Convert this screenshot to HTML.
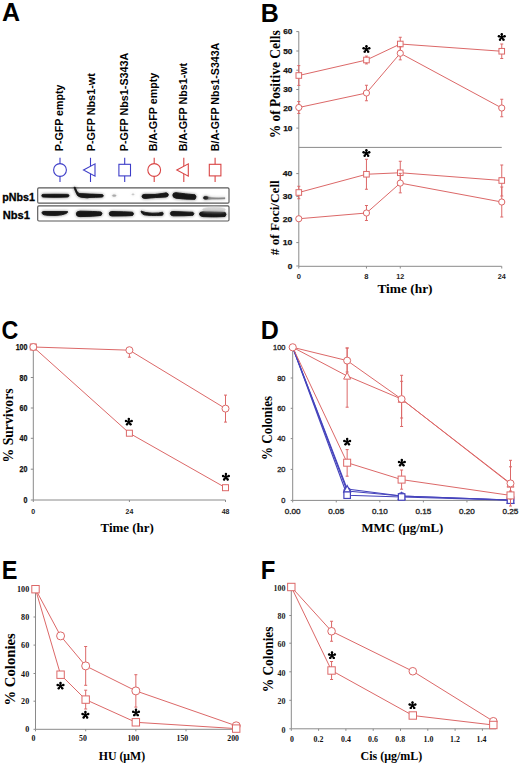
<!DOCTYPE html>
<html><head><meta charset="utf-8"><style>
html,body{margin:0;padding:0;background:#fff;width:520px;height:765px;overflow:hidden}
svg{display:block}
</style></head><body>
<svg width="520" height="765" viewBox="0 0 520 765">
<rect width="520" height="765" fill="#fff"/>
<text x="1.9000000000000001" y="21.2" font-family='"Liberation Sans", sans-serif' font-size="25" font-weight="bold" text-anchor="start" fill="#000">A</text>
<text x="260.7" y="21.6" font-family='"Liberation Sans", sans-serif' font-size="25" font-weight="bold" text-anchor="start" fill="#000">B</text>
<text x="1.5999999999999999" y="338.9" font-family='"Liberation Sans", sans-serif' font-size="25" font-weight="bold" text-anchor="start" fill="#000" textLength="16.8" lengthAdjust="spacingAndGlyphs">C</text>
<text x="260.7" y="338.6" font-family='"Liberation Sans", sans-serif' font-size="25" font-weight="bold" text-anchor="start" fill="#000">D</text>
<text x="1.7" y="578.5" font-family='"Liberation Sans", sans-serif' font-size="25" font-weight="bold" text-anchor="start" fill="#000" textLength="15.7" lengthAdjust="spacingAndGlyphs">E</text>
<text x="260.7" y="578.5" font-family='"Liberation Sans", sans-serif' font-size="25" font-weight="bold" text-anchor="start" fill="#000" textLength="14.6" lengthAdjust="spacingAndGlyphs">F</text>
<text x="63.3" y="151.2" font-family='"Liberation Sans", sans-serif' font-size="11" font-weight="bold" text-anchor="start" fill="#000" textLength="66.7" lengthAdjust="spacingAndGlyphs" transform="rotate(-90 63.3 151.2)">P-GFP empty</text>
<text x="94.6" y="151.2" font-family='"Liberation Sans", sans-serif' font-size="11" font-weight="bold" text-anchor="start" fill="#000" textLength="78" lengthAdjust="spacingAndGlyphs" transform="rotate(-90 94.6 151.2)">P-GFP Nbs1-wt</text>
<text x="127.6" y="151.2" font-family='"Liberation Sans", sans-serif' font-size="11" font-weight="bold" text-anchor="start" fill="#000" textLength="98.5" lengthAdjust="spacingAndGlyphs" transform="rotate(-90 127.6 151.2)">P-GFP Nbs1-S343A</text>
<text x="157.4" y="151.2" font-family='"Liberation Sans", sans-serif' font-size="11" font-weight="bold" text-anchor="start" fill="#000" textLength="78.5" lengthAdjust="spacingAndGlyphs" transform="rotate(-90 157.4 151.2)">B/A-GFP empty</text>
<text x="186.7" y="151.2" font-family='"Liberation Sans", sans-serif' font-size="11" font-weight="bold" text-anchor="start" fill="#000" textLength="88.3" lengthAdjust="spacingAndGlyphs" transform="rotate(-90 186.7 151.2)">B/A-GFP Nbs1-wt</text>
<text x="219.5" y="151.2" font-family='"Liberation Sans", sans-serif' font-size="11" font-weight="bold" text-anchor="start" fill="#000" textLength="108.5" lengthAdjust="spacingAndGlyphs" transform="rotate(-90 219.5 151.2)">B/A-GFP Nbs1-S343A</text>
<line x1="60" y1="157.8" x2="60" y2="182" stroke="#3d3dc8" stroke-width="1.1"/>
<circle cx="60" cy="170" r="6.4" fill="#fff" stroke="#3d3dc8" stroke-width="1.1"/>
<line x1="90.5" y1="157.8" x2="90.5" y2="182" stroke="#3d3dc8" stroke-width="1.1"/>
<polygon points="83.5,170 95.0,163.8 95.0,176.2" fill="#fff" stroke="#3d3dc8" stroke-width="1.1"/>
<line x1="124.7" y1="157.8" x2="124.7" y2="182" stroke="#3d3dc8" stroke-width="1.1"/>
<rect x="118.9" y="164.3" width="11.6" height="11.6" fill="#fff" stroke="#3d3dc8" stroke-width="1.1"/>
<line x1="154.2" y1="157.8" x2="154.2" y2="182" stroke="#d94545" stroke-width="1.1"/>
<circle cx="154.2" cy="170" r="6.4" fill="#fff" stroke="#d94545" stroke-width="1.1"/>
<line x1="183.8" y1="157.8" x2="183.8" y2="182" stroke="#d94545" stroke-width="1.1"/>
<polygon points="176.8,170 188.3,163.8 188.3,176.2" fill="#fff" stroke="#d94545" stroke-width="1.1"/>
<line x1="215.1" y1="157.8" x2="215.1" y2="182" stroke="#d94545" stroke-width="1.1"/>
<rect x="209.29999999999998" y="164.3" width="11.6" height="11.6" fill="#fff" stroke="#d94545" stroke-width="1.1"/>
<rect x="37.7" y="187.9" width="191.3" height="15.2" rx="1.2" fill="#fff" stroke="#595959" stroke-width="1.15"/>
<rect x="37.7" y="205.8" width="191.3" height="15.2" rx="1.2" fill="#fff" stroke="#595959" stroke-width="1.15"/>
<defs><filter id="bl" x="-20%" y="-100%" width="140%" height="300%"><feGaussianBlur stdDeviation="0.75"/></filter><filter id="bl2" x="-20%" y="-150%" width="140%" height="400%"><feGaussianBlur stdDeviation="1.6"/></filter></defs>
<g id="bands" filter="url(#bl)" fill="#151515">
<path d="M41.8,195.6 Q41.8,194.4 43,194.4 Q55,194.2 67.5,194.4 Q69,194.5 69,195.6 Q69,196.9 67.5,197 Q55,197.5 43,197 Q41.8,196.9 41.8,195.6 Z" stroke="#151515" stroke-width="0.9"/>
<path d="M74,187.3 L75.2,187.3 Q76.5,192 79,193.6 Q90,194.2 102.5,194.6 Q104.3,195.8 102.5,197 Q95,197.3 90,197.4 Q87,198.2 85,197.6 Q79,197.4 77.5,195.5 Q75,191 74,187.3 Z" stroke="#151515" stroke-width="0.9"/>
<ellipse cx="114.2" cy="195.6" rx="1.9" ry="0.9" fill="#aaa" stroke="#aaa" stroke-width="0.5"/>
<ellipse cx="133" cy="194.4" rx="1.2" ry="0.7" fill="#ccc" stroke="#ccc" stroke-width="0.5"/>
<path d="M142,196.3 Q142,194.2 145,194.4 Q156,195 163,193.4 Q167,192 168.2,194 Q168.8,196.5 166,197 Q156,197.3 145,198.4 Q142,198.5 142,196.3 Z" stroke="#151515" stroke-width="0.9"/>
<path d="M172.8,195 Q173,192.5 176,192.7 Q186,194 195,194.8 Q197,196.5 195,199.3 Q186,199.5 176,198.2 Q172.8,197.8 172.8,195 Z" stroke="#151515" stroke-width="0.9"/>
<path d="M203.3,197.2 Q204,195.8 206.5,196.2 Q209,197 212,197.5 Q219,197.8 225,197.6 L225,199 Q218,199.2 212,199.2 Q207,199.6 204.8,199.4 Q203,198.8 203.3,197.2 Z" fill="#8a8a8a" stroke="#8a8a8a" stroke-width="0.3"/>
<ellipse cx="205.8" cy="197.9" rx="2.4" ry="1.3" stroke="#151515" stroke-width="0.5"/>
<path d="M42,212.6 Q42,211.5 44,211.5 L67.5,211.6 Q68.5,212 66,213.5 Q62,215.3 55,215.4 Q47,215.5 44,214.8 Q42,214.2 42,212.6 Z" stroke="#151515" stroke-width="0.9"/>
<path d="M76.3,213.9 Q76.3,211.2 80,211.2 Q95,211.4 101,212 Q103,213.5 101,215.4 Q95,216.2 80,216.6 Q76.3,216.6 76.3,213.9 Z" stroke="#151515" stroke-width="0.9"/>
<path d="M109.3,213.7 Q109.3,211.5 112,211.5 Q125,211.8 132.5,212.2 Q134.5,213.7 132.5,215.5 Q125,216 112,216 Q109.3,216 109.3,213.7 Z" stroke="#151515" stroke-width="0.9"/>
<path d="M141,211 Q145,213 152,213.2 Q160,213.3 162.5,212.2 Q164,213.8 162.5,215.2 Q150,215.8 144,214.8 Q141,213.5 141,211 Z" stroke="#151515" stroke-width="0.9"/>
<path d="M170.4,213.5 Q170.4,211.4 173,211.5 Q185,212 193,212.3 Q194.8,213.7 193,215.3 Q185,215.9 173,215.8 Q170.4,215.6 170.4,213.5 Z" stroke="#151515" stroke-width="0.9"/>
<ellipse cx="214" cy="209.6" rx="11.5" ry="2.4" fill="#d5d5d5" stroke="#d5d5d5" stroke-width="0.5"/>
<path d="M199.5,214 Q199.5,211.8 203,211.8 Q215,212 225,212.3 Q227,214.3 225,216.5 Q215,217.2 203,216.6 Q199.5,216.2 199.5,214 Z" stroke="#151515" stroke-width="0.9"/>
</g>
<g filter="url(#bl2)" opacity="0.6"><use href="#bands"/></g>
<text x="2.3" y="201" font-family='"Liberation Sans", sans-serif' font-size="11" font-weight="bold" text-anchor="start" fill="#000" textLength="32.7" lengthAdjust="spacingAndGlyphs" stroke="#000" stroke-width="0.3">pNbs1</text>
<text x="2.8" y="218.8" font-family='"Liberation Sans", sans-serif' font-size="11" font-weight="bold" text-anchor="start" fill="#000" textLength="27.2" lengthAdjust="spacingAndGlyphs" stroke="#000" stroke-width="0.3">Nbs1</text>
<line x1="298.8" y1="31.6" x2="298.8" y2="266.3" stroke="#8a8a8a" stroke-width="1"/>
<line x1="298.8" y1="147.4" x2="501.75" y2="147.4" stroke="#8a8a8a" stroke-width="1"/>
<line x1="298.8" y1="266.3" x2="501.75" y2="266.3" stroke="#8a8a8a" stroke-width="1"/>
<line x1="296.3" y1="31.6" x2="298.8" y2="31.6" stroke="#8a8a8a" stroke-width="1"/>
<text x="292.4" y="34.4" font-family='"Liberation Sans", sans-serif' font-size="7.8" font-weight="bold" text-anchor="end" fill="#111" textLength="9.2" lengthAdjust="spacingAndGlyphs" stroke="#111" stroke-width="0.25">60</text>
<line x1="296.3" y1="51" x2="298.8" y2="51" stroke="#8a8a8a" stroke-width="1"/>
<text x="292.4" y="53.8" font-family='"Liberation Sans", sans-serif' font-size="7.8" font-weight="bold" text-anchor="end" fill="#111" textLength="9.2" lengthAdjust="spacingAndGlyphs" stroke="#111" stroke-width="0.25">50</text>
<line x1="296.3" y1="70.2" x2="298.8" y2="70.2" stroke="#8a8a8a" stroke-width="1"/>
<text x="292.4" y="73.0" font-family='"Liberation Sans", sans-serif' font-size="7.8" font-weight="bold" text-anchor="end" fill="#111" textLength="9.2" lengthAdjust="spacingAndGlyphs" stroke="#111" stroke-width="0.25">40</text>
<line x1="296.3" y1="89.5" x2="298.8" y2="89.5" stroke="#8a8a8a" stroke-width="1"/>
<text x="292.4" y="92.3" font-family='"Liberation Sans", sans-serif' font-size="7.8" font-weight="bold" text-anchor="end" fill="#111" textLength="9.2" lengthAdjust="spacingAndGlyphs" stroke="#111" stroke-width="0.25">30</text>
<line x1="296.3" y1="108.6" x2="298.8" y2="108.6" stroke="#8a8a8a" stroke-width="1"/>
<text x="292.4" y="111.39999999999999" font-family='"Liberation Sans", sans-serif' font-size="7.8" font-weight="bold" text-anchor="end" fill="#111" textLength="9.2" lengthAdjust="spacingAndGlyphs" stroke="#111" stroke-width="0.25">20</text>
<line x1="296.3" y1="128.1" x2="298.8" y2="128.1" stroke="#8a8a8a" stroke-width="1"/>
<text x="292.4" y="130.9" font-family='"Liberation Sans", sans-serif' font-size="7.8" font-weight="bold" text-anchor="end" fill="#111" textLength="9.2" lengthAdjust="spacingAndGlyphs" stroke="#111" stroke-width="0.25">10</text>
<line x1="296.3" y1="173.6" x2="298.8" y2="173.6" stroke="#8a8a8a" stroke-width="1"/>
<text x="292.4" y="176.4" font-family='"Liberation Sans", sans-serif' font-size="7.8" font-weight="bold" text-anchor="end" fill="#111" textLength="9.6" lengthAdjust="spacingAndGlyphs" stroke="#111" stroke-width="0.25">40</text>
<line x1="296.3" y1="196.6" x2="298.8" y2="196.6" stroke="#8a8a8a" stroke-width="1"/>
<text x="292.4" y="199.4" font-family='"Liberation Sans", sans-serif' font-size="7.8" font-weight="bold" text-anchor="end" fill="#111" textLength="9.6" lengthAdjust="spacingAndGlyphs" stroke="#111" stroke-width="0.25">30</text>
<line x1="296.3" y1="219.4" x2="298.8" y2="219.4" stroke="#8a8a8a" stroke-width="1"/>
<text x="292.4" y="222.20000000000002" font-family='"Liberation Sans", sans-serif' font-size="7.8" font-weight="bold" text-anchor="end" fill="#111" textLength="9.6" lengthAdjust="spacingAndGlyphs" stroke="#111" stroke-width="0.25">20</text>
<line x1="296.3" y1="242.6" x2="298.8" y2="242.6" stroke="#8a8a8a" stroke-width="1"/>
<text x="292.4" y="245.4" font-family='"Liberation Sans", sans-serif' font-size="7.8" font-weight="bold" text-anchor="end" fill="#111" textLength="9.6" lengthAdjust="spacingAndGlyphs" stroke="#111" stroke-width="0.25">10</text>
<line x1="296.3" y1="266" x2="298.8" y2="266" stroke="#8a8a8a" stroke-width="1"/>
<text x="292.4" y="268.8" font-family='"Liberation Sans", sans-serif' font-size="7.8" font-weight="bold" text-anchor="end" fill="#111" textLength="4.6" lengthAdjust="spacingAndGlyphs" stroke="#111" stroke-width="0.25">0</text>
<line x1="298.8" y1="266.3" x2="298.8" y2="268.5" stroke="#8a8a8a" stroke-width="1"/>
<text x="298.8" y="278.8" font-family='"Liberation Sans", sans-serif' font-size="7.2" font-weight="bold" text-anchor="middle" fill="#222" textLength="4.2" lengthAdjust="spacingAndGlyphs">0</text>
<line x1="366.45" y1="266.3" x2="366.45" y2="268.5" stroke="#8a8a8a" stroke-width="1"/>
<text x="366.45" y="278.8" font-family='"Liberation Sans", sans-serif' font-size="7.2" font-weight="bold" text-anchor="middle" fill="#222" textLength="4.2" lengthAdjust="spacingAndGlyphs">8</text>
<line x1="400.275" y1="266.3" x2="400.275" y2="268.5" stroke="#8a8a8a" stroke-width="1"/>
<text x="400.275" y="278.8" font-family='"Liberation Sans", sans-serif' font-size="7.2" font-weight="bold" text-anchor="middle" fill="#222" textLength="8.0" lengthAdjust="spacingAndGlyphs">12</text>
<line x1="501.75" y1="266.3" x2="501.75" y2="268.5" stroke="#8a8a8a" stroke-width="1"/>
<text x="501.75" y="278.8" font-family='"Liberation Sans", sans-serif' font-size="7.2" font-weight="bold" text-anchor="middle" fill="#222" textLength="8.0" lengthAdjust="spacingAndGlyphs">24</text>
<text x="377.4" y="292.9" font-family='"Liberation Serif", serif' font-size="13.5" font-weight="bold" text-anchor="start" fill="#000" textLength="55.2" lengthAdjust="spacingAndGlyphs">Time (hr)</text>
<text x="280.0" y="138.3" font-family='"Liberation Serif", serif' font-size="14.8" font-weight="bold" text-anchor="start" fill="#000" textLength="108" lengthAdjust="spacingAndGlyphs" transform="rotate(-90 280.0 138.3)">% of Positive Cells</text>
<text x="279" y="255.2" font-family='"Liberation Serif", serif' font-size="13.2" font-weight="bold" text-anchor="start" fill="#000" textLength="75" lengthAdjust="spacingAndGlyphs" transform="rotate(-90 279 255.2)"># of Foci/Cell</text>
<line x1="298.8" y1="65.6" x2="298.8" y2="85.4" stroke="#dc6868" stroke-width="1"/>
<line x1="297.3" y1="65.6" x2="300.3" y2="65.6" stroke="#dc6868" stroke-width="1"/>
<line x1="297.3" y1="85.4" x2="300.3" y2="85.4" stroke="#dc6868" stroke-width="1"/>
<line x1="366.45" y1="56.1" x2="366.45" y2="63.9" stroke="#dc6868" stroke-width="1"/>
<line x1="364.95" y1="56.1" x2="367.95" y2="56.1" stroke="#dc6868" stroke-width="1"/>
<line x1="364.95" y1="63.9" x2="367.95" y2="63.9" stroke="#dc6868" stroke-width="1"/>
<line x1="400.275" y1="37.25" x2="400.275" y2="50.75" stroke="#dc6868" stroke-width="1"/>
<line x1="398.775" y1="37.25" x2="401.775" y2="37.25" stroke="#dc6868" stroke-width="1"/>
<line x1="398.775" y1="50.75" x2="401.775" y2="50.75" stroke="#dc6868" stroke-width="1"/>
<line x1="501.75" y1="44.0" x2="501.75" y2="58.5" stroke="#dc6868" stroke-width="1"/>
<line x1="500.25" y1="44.0" x2="503.25" y2="44.0" stroke="#dc6868" stroke-width="1"/>
<line x1="500.25" y1="58.5" x2="503.25" y2="58.5" stroke="#dc6868" stroke-width="1"/>
<polyline points="298.8,75.5 366.45,60 400.275,44 501.75,51.25" fill="none" stroke="#dc6868" stroke-width="1"/>
<rect x="296.0" y="72.7" width="5.6" height="5.6" fill="#fff" stroke="#dc6868" stroke-width="1"/>
<rect x="363.65" y="57.2" width="5.6" height="5.6" fill="#fff" stroke="#dc6868" stroke-width="1"/>
<rect x="397.47499999999997" y="41.2" width="5.6" height="5.6" fill="#fff" stroke="#dc6868" stroke-width="1"/>
<rect x="498.95" y="48.45" width="5.6" height="5.6" fill="#fff" stroke="#dc6868" stroke-width="1"/>
<line x1="298.8" y1="101.5" x2="298.8" y2="113.5" stroke="#dc6868" stroke-width="1"/>
<line x1="297.3" y1="101.5" x2="300.3" y2="101.5" stroke="#dc6868" stroke-width="1"/>
<line x1="297.3" y1="113.5" x2="300.3" y2="113.5" stroke="#dc6868" stroke-width="1"/>
<line x1="366.45" y1="85.25" x2="366.45" y2="100.75" stroke="#dc6868" stroke-width="1"/>
<line x1="364.95" y1="85.25" x2="367.95" y2="85.25" stroke="#dc6868" stroke-width="1"/>
<line x1="364.95" y1="100.75" x2="367.95" y2="100.75" stroke="#dc6868" stroke-width="1"/>
<line x1="400.275" y1="46.65" x2="400.275" y2="59.85" stroke="#dc6868" stroke-width="1"/>
<line x1="398.775" y1="46.65" x2="401.775" y2="46.65" stroke="#dc6868" stroke-width="1"/>
<line x1="398.775" y1="59.85" x2="401.775" y2="59.85" stroke="#dc6868" stroke-width="1"/>
<line x1="501.75" y1="99.25" x2="501.75" y2="116.75" stroke="#dc6868" stroke-width="1"/>
<line x1="500.25" y1="99.25" x2="503.25" y2="99.25" stroke="#dc6868" stroke-width="1"/>
<line x1="500.25" y1="116.75" x2="503.25" y2="116.75" stroke="#dc6868" stroke-width="1"/>
<polyline points="298.8,107.5 366.45,93 400.275,53.25 501.75,108" fill="none" stroke="#dc6868" stroke-width="1"/>
<circle cx="298.8" cy="107.5" r="3.1" fill="#fff" stroke="#dc6868" stroke-width="1"/>
<circle cx="366.45" cy="93" r="3.1" fill="#fff" stroke="#dc6868" stroke-width="1"/>
<circle cx="400.275" cy="53.25" r="3.1" fill="#fff" stroke="#dc6868" stroke-width="1"/>
<circle cx="501.75" cy="108" r="3.1" fill="#fff" stroke="#dc6868" stroke-width="1"/>
<g fill="#000"><path d="M366.45,49.20L366.45,46.20M366.45,49.20L369.30,48.27M366.45,49.20L368.21,51.63M366.45,49.20L364.69,51.63M366.45,49.20L363.60,48.27" stroke="#000" stroke-width="1.7" stroke-linecap="round" fill="none"/><circle cx="366.45" cy="46.20" r="1.2"/><circle cx="369.30" cy="48.27" r="1.2"/><circle cx="368.21" cy="51.63" r="1.2"/><circle cx="364.69" cy="51.63" r="1.2"/><circle cx="363.60" cy="48.27" r="1.2"/></g>
<g fill="#000"><path d="M501.75,37.20L501.75,34.20M501.75,37.20L504.60,36.27M501.75,37.20L503.51,39.63M501.75,37.20L499.99,39.63M501.75,37.20L498.90,36.27" stroke="#000" stroke-width="1.7" stroke-linecap="round" fill="none"/><circle cx="501.75" cy="34.20" r="1.2"/><circle cx="504.60" cy="36.27" r="1.2"/><circle cx="503.51" cy="39.63" r="1.2"/><circle cx="499.99" cy="39.63" r="1.2"/><circle cx="498.90" cy="36.27" r="1.2"/></g>
<line x1="298.8" y1="186.25" x2="298.8" y2="198.75" stroke="#dc6868" stroke-width="1"/>
<line x1="297.3" y1="186.25" x2="300.3" y2="186.25" stroke="#dc6868" stroke-width="1"/>
<line x1="297.3" y1="198.75" x2="300.3" y2="198.75" stroke="#dc6868" stroke-width="1"/>
<line x1="366.45" y1="159.25" x2="366.45" y2="189.25" stroke="#dc6868" stroke-width="1"/>
<line x1="364.95" y1="159.25" x2="367.95" y2="159.25" stroke="#dc6868" stroke-width="1"/>
<line x1="364.95" y1="189.25" x2="367.95" y2="189.25" stroke="#dc6868" stroke-width="1"/>
<line x1="400.275" y1="161.25" x2="400.275" y2="184.25" stroke="#dc6868" stroke-width="1"/>
<line x1="398.775" y1="161.25" x2="401.775" y2="161.25" stroke="#dc6868" stroke-width="1"/>
<line x1="398.775" y1="184.25" x2="401.775" y2="184.25" stroke="#dc6868" stroke-width="1"/>
<line x1="501.75" y1="165.0" x2="501.75" y2="196.0" stroke="#dc6868" stroke-width="1"/>
<line x1="500.25" y1="165.0" x2="503.25" y2="165.0" stroke="#dc6868" stroke-width="1"/>
<line x1="500.25" y1="196.0" x2="503.25" y2="196.0" stroke="#dc6868" stroke-width="1"/>
<polyline points="298.8,192.5 366.45,174.25 400.275,172.75 501.75,180.5" fill="none" stroke="#dc6868" stroke-width="1"/>
<rect x="296.0" y="189.7" width="5.6" height="5.6" fill="#fff" stroke="#dc6868" stroke-width="1"/>
<rect x="363.65" y="171.45" width="5.6" height="5.6" fill="#fff" stroke="#dc6868" stroke-width="1"/>
<rect x="397.47499999999997" y="169.95" width="5.6" height="5.6" fill="#fff" stroke="#dc6868" stroke-width="1"/>
<rect x="498.95" y="177.7" width="5.6" height="5.6" fill="#fff" stroke="#dc6868" stroke-width="1"/>
<line x1="298.8" y1="216.75" x2="298.8" y2="220.75" stroke="#dc6868" stroke-width="1"/>
<line x1="297.3" y1="216.75" x2="300.3" y2="216.75" stroke="#dc6868" stroke-width="1"/>
<line x1="297.3" y1="220.75" x2="300.3" y2="220.75" stroke="#dc6868" stroke-width="1"/>
<line x1="366.45" y1="205.5" x2="366.45" y2="220.5" stroke="#dc6868" stroke-width="1"/>
<line x1="364.95" y1="205.5" x2="367.95" y2="205.5" stroke="#dc6868" stroke-width="1"/>
<line x1="364.95" y1="220.5" x2="367.95" y2="220.5" stroke="#dc6868" stroke-width="1"/>
<line x1="400.275" y1="173.35" x2="400.275" y2="192.85" stroke="#dc6868" stroke-width="1"/>
<line x1="398.775" y1="173.35" x2="401.775" y2="173.35" stroke="#dc6868" stroke-width="1"/>
<line x1="398.775" y1="192.85" x2="401.775" y2="192.85" stroke="#dc6868" stroke-width="1"/>
<line x1="501.75" y1="187" x2="501.75" y2="217" stroke="#dc6868" stroke-width="1"/>
<line x1="500.25" y1="187" x2="503.25" y2="187" stroke="#dc6868" stroke-width="1"/>
<line x1="500.25" y1="217" x2="503.25" y2="217" stroke="#dc6868" stroke-width="1"/>
<polyline points="298.8,218.75 366.45,213 400.275,183.1 501.75,202" fill="none" stroke="#dc6868" stroke-width="1"/>
<circle cx="298.8" cy="218.75" r="3.1" fill="#fff" stroke="#dc6868" stroke-width="1"/>
<circle cx="366.45" cy="213" r="3.1" fill="#fff" stroke="#dc6868" stroke-width="1"/>
<circle cx="400.275" cy="183.1" r="3.1" fill="#fff" stroke="#dc6868" stroke-width="1"/>
<circle cx="501.75" cy="202" r="3.1" fill="#fff" stroke="#dc6868" stroke-width="1"/>
<g fill="#000"><path d="M366.40,153.25L366.40,150.25M366.40,153.25L369.25,152.32M366.40,153.25L368.16,155.68M366.40,153.25L364.64,155.68M366.40,153.25L363.55,152.32" stroke="#000" stroke-width="1.7" stroke-linecap="round" fill="none"/><circle cx="366.40" cy="150.25" r="1.2"/><circle cx="369.25" cy="152.32" r="1.2"/><circle cx="368.16" cy="155.68" r="1.2"/><circle cx="364.64" cy="155.68" r="1.2"/><circle cx="363.55" cy="152.32" r="1.2"/></g>
<line x1="33.3" y1="347" x2="33.3" y2="500" stroke="#8a8a8a" stroke-width="1"/>
<line x1="33.3" y1="500" x2="225.5" y2="500" stroke="#8a8a8a" stroke-width="1"/>
<line x1="30.799999999999997" y1="346.8" x2="33.3" y2="346.8" stroke="#8a8a8a" stroke-width="1"/>
<text x="27.5" y="349.8" font-family='"Liberation Sans", sans-serif' font-size="8.2" font-weight="bold" text-anchor="end" fill="#111" textLength="11.850000000000001" lengthAdjust="spacingAndGlyphs" stroke="#111" stroke-width="0.25">100</text>
<line x1="30.799999999999997" y1="377.5" x2="33.3" y2="377.5" stroke="#8a8a8a" stroke-width="1"/>
<text x="27.5" y="380.5" font-family='"Liberation Sans", sans-serif' font-size="8.2" font-weight="bold" text-anchor="end" fill="#111" textLength="7.9" lengthAdjust="spacingAndGlyphs" stroke="#111" stroke-width="0.25">80</text>
<line x1="30.799999999999997" y1="408" x2="33.3" y2="408" stroke="#8a8a8a" stroke-width="1"/>
<text x="27.5" y="411" font-family='"Liberation Sans", sans-serif' font-size="8.2" font-weight="bold" text-anchor="end" fill="#111" textLength="7.9" lengthAdjust="spacingAndGlyphs" stroke="#111" stroke-width="0.25">60</text>
<line x1="30.799999999999997" y1="438.3" x2="33.3" y2="438.3" stroke="#8a8a8a" stroke-width="1"/>
<text x="27.5" y="441.3" font-family='"Liberation Sans", sans-serif' font-size="8.2" font-weight="bold" text-anchor="end" fill="#111" textLength="7.9" lengthAdjust="spacingAndGlyphs" stroke="#111" stroke-width="0.25">40</text>
<line x1="30.799999999999997" y1="469.2" x2="33.3" y2="469.2" stroke="#8a8a8a" stroke-width="1"/>
<text x="27.5" y="472.2" font-family='"Liberation Sans", sans-serif' font-size="8.2" font-weight="bold" text-anchor="end" fill="#111" textLength="7.9" lengthAdjust="spacingAndGlyphs" stroke="#111" stroke-width="0.25">20</text>
<line x1="30.799999999999997" y1="500" x2="33.3" y2="500" stroke="#8a8a8a" stroke-width="1"/>
<text x="27.5" y="503" font-family='"Liberation Sans", sans-serif' font-size="8.2" font-weight="bold" text-anchor="end" fill="#111" textLength="3.95" lengthAdjust="spacingAndGlyphs" stroke="#111" stroke-width="0.25">0</text>
<line x1="33.3" y1="500" x2="33.3" y2="502" stroke="#8a8a8a" stroke-width="1"/>
<text x="33.3" y="513.8" font-family='"Liberation Sans", sans-serif' font-size="8.0" font-weight="bold" text-anchor="middle" fill="#222" textLength="3.9" lengthAdjust="spacingAndGlyphs">0</text>
<line x1="129.39999999999998" y1="500" x2="129.39999999999998" y2="502" stroke="#8a8a8a" stroke-width="1"/>
<text x="129.39999999999998" y="513.8" font-family='"Liberation Sans", sans-serif' font-size="8.0" font-weight="bold" text-anchor="middle" fill="#222" textLength="7.7" lengthAdjust="spacingAndGlyphs">24</text>
<line x1="225.49999999999994" y1="500" x2="225.49999999999994" y2="502" stroke="#8a8a8a" stroke-width="1"/>
<text x="225.49999999999994" y="513.8" font-family='"Liberation Sans", sans-serif' font-size="8.0" font-weight="bold" text-anchor="middle" fill="#222" textLength="7.7" lengthAdjust="spacingAndGlyphs">48</text>
<text x="100.5" y="531.5" font-family='"Liberation Serif", serif' font-size="13" font-weight="bold" text-anchor="start" fill="#000" textLength="53.3" lengthAdjust="spacingAndGlyphs">Time (hr)</text>
<text x="12.9" y="462.4" font-family='"Liberation Serif", serif' font-size="13.7" font-weight="bold" text-anchor="start" fill="#000" textLength="74" lengthAdjust="spacingAndGlyphs" transform="rotate(-90 12.9 462.4)">% Survivors</text>
<line x1="129.39999999999998" y1="350.2" x2="129.39999999999998" y2="357.2" stroke="#dc6868" stroke-width="1"/>
<line x1="127.89999999999998" y1="350.2" x2="130.89999999999998" y2="350.2" stroke="#dc6868" stroke-width="1"/>
<line x1="127.89999999999998" y1="357.2" x2="130.89999999999998" y2="357.2" stroke="#dc6868" stroke-width="1"/>
<line x1="225.49999999999994" y1="395.1" x2="225.49999999999994" y2="422.1" stroke="#dc6868" stroke-width="1"/>
<line x1="223.99999999999994" y1="395.1" x2="226.99999999999994" y2="395.1" stroke="#dc6868" stroke-width="1"/>
<line x1="223.99999999999994" y1="422.1" x2="226.99999999999994" y2="422.1" stroke="#dc6868" stroke-width="1"/>
<polyline points="33.3,347 129.39999999999998,350.2 225.49999999999994,408.6" fill="none" stroke="#dc6868" stroke-width="1"/>
<polyline points="33.3,347 129.39999999999998,433.2 225.49999999999994,487.7" fill="none" stroke="#dc6868" stroke-width="1"/>
<rect x="30.299999999999997" y="344.0" width="6" height="6" fill="#fff" stroke="#dc6868" stroke-width="1"/>
<rect x="126.39999999999998" y="430.2" width="6" height="6" fill="#fff" stroke="#dc6868" stroke-width="1"/>
<rect x="222.49999999999994" y="484.7" width="6" height="6" fill="#fff" stroke="#dc6868" stroke-width="1"/>
<circle cx="33.3" cy="347" r="3.5" fill="#fff" stroke="#dc6868" stroke-width="1"/>
<circle cx="129.39999999999998" cy="350.2" r="3.5" fill="#fff" stroke="#dc6868" stroke-width="1"/>
<circle cx="225.49999999999994" cy="408.6" r="3.5" fill="#fff" stroke="#dc6868" stroke-width="1"/>
<g fill="#000"><path d="M128.80,421.90L128.80,418.90M128.80,421.90L131.65,420.97M128.80,421.90L130.56,424.33M128.80,421.90L127.04,424.33M128.80,421.90L125.95,420.97" stroke="#000" stroke-width="1.7" stroke-linecap="round" fill="none"/><circle cx="128.80" cy="418.90" r="1.2"/><circle cx="131.65" cy="420.97" r="1.2"/><circle cx="130.56" cy="424.33" r="1.2"/><circle cx="127.04" cy="424.33" r="1.2"/><circle cx="125.95" cy="420.97" r="1.2"/></g>
<g fill="#000"><path d="M225.90,477.00L225.90,474.00M225.90,477.00L228.75,476.07M225.90,477.00L227.66,479.43M225.90,477.00L224.14,479.43M225.90,477.00L223.05,476.07" stroke="#000" stroke-width="1.7" stroke-linecap="round" fill="none"/><circle cx="225.90" cy="474.00" r="1.2"/><circle cx="228.75" cy="476.07" r="1.2"/><circle cx="227.66" cy="479.43" r="1.2"/><circle cx="224.14" cy="479.43" r="1.2"/><circle cx="223.05" cy="476.07" r="1.2"/></g>
<line x1="292.7" y1="347.3" x2="292.7" y2="500.4" stroke="#8a8a8a" stroke-width="1"/>
<line x1="292.7" y1="500.4" x2="510.5" y2="500.4" stroke="#8a8a8a" stroke-width="1"/>
<line x1="290.7" y1="347.4" x2="292.7" y2="347.4" stroke="#8a8a8a" stroke-width="1"/>
<text x="285.5" y="350.09999999999997" font-family='"Liberation Sans", sans-serif' font-size="7.5" font-weight="normal" text-anchor="end" fill="#2a2a2a" textLength="12.39" lengthAdjust="spacingAndGlyphs" stroke="#2a2a2a" stroke-width="0.35">100</text>
<line x1="290.7" y1="378" x2="292.7" y2="378" stroke="#8a8a8a" stroke-width="1"/>
<text x="285.5" y="380.7" font-family='"Liberation Sans", sans-serif' font-size="7.5" font-weight="normal" text-anchor="end" fill="#2a2a2a" textLength="8.26" lengthAdjust="spacingAndGlyphs" stroke="#2a2a2a" stroke-width="0.35">80</text>
<line x1="290.7" y1="408.3" x2="292.7" y2="408.3" stroke="#8a8a8a" stroke-width="1"/>
<text x="285.5" y="411.0" font-family='"Liberation Sans", sans-serif' font-size="7.5" font-weight="normal" text-anchor="end" fill="#2a2a2a" textLength="8.26" lengthAdjust="spacingAndGlyphs" stroke="#2a2a2a" stroke-width="0.35">60</text>
<line x1="290.7" y1="438.6" x2="292.7" y2="438.6" stroke="#8a8a8a" stroke-width="1"/>
<text x="285.5" y="441.3" font-family='"Liberation Sans", sans-serif' font-size="7.5" font-weight="normal" text-anchor="end" fill="#2a2a2a" textLength="8.26" lengthAdjust="spacingAndGlyphs" stroke="#2a2a2a" stroke-width="0.35">40</text>
<line x1="290.7" y1="469.4" x2="292.7" y2="469.4" stroke="#8a8a8a" stroke-width="1"/>
<text x="285.5" y="472.09999999999997" font-family='"Liberation Sans", sans-serif' font-size="7.5" font-weight="normal" text-anchor="end" fill="#2a2a2a" textLength="8.26" lengthAdjust="spacingAndGlyphs" stroke="#2a2a2a" stroke-width="0.35">20</text>
<line x1="290.7" y1="500.4" x2="292.7" y2="500.4" stroke="#8a8a8a" stroke-width="1"/>
<text x="285.5" y="503.09999999999997" font-family='"Liberation Sans", sans-serif' font-size="7.5" font-weight="normal" text-anchor="end" fill="#2a2a2a" textLength="4.13" lengthAdjust="spacingAndGlyphs" stroke="#2a2a2a" stroke-width="0.35">0</text>
<line x1="292.7" y1="500.4" x2="292.7" y2="502.4" stroke="#8a8a8a" stroke-width="1"/>
<text x="292.7" y="513.5" font-family='"Liberation Sans", sans-serif' font-size="7.5" font-weight="normal" text-anchor="middle" fill="#2a2a2a" textLength="15.8" lengthAdjust="spacingAndGlyphs" stroke="#2a2a2a" stroke-width="0.35">0.00</text>
<line x1="336.26" y1="500.4" x2="336.26" y2="502.4" stroke="#8a8a8a" stroke-width="1"/>
<text x="336.26" y="513.5" font-family='"Liberation Sans", sans-serif' font-size="7.5" font-weight="normal" text-anchor="middle" fill="#2a2a2a" textLength="15.8" lengthAdjust="spacingAndGlyphs" stroke="#2a2a2a" stroke-width="0.35">0.05</text>
<line x1="379.82" y1="500.4" x2="379.82" y2="502.4" stroke="#8a8a8a" stroke-width="1"/>
<text x="379.82" y="513.5" font-family='"Liberation Sans", sans-serif' font-size="7.5" font-weight="normal" text-anchor="middle" fill="#2a2a2a" textLength="15.8" lengthAdjust="spacingAndGlyphs" stroke="#2a2a2a" stroke-width="0.35">0.10</text>
<line x1="423.38" y1="500.4" x2="423.38" y2="502.4" stroke="#8a8a8a" stroke-width="1"/>
<text x="423.38" y="513.5" font-family='"Liberation Sans", sans-serif' font-size="7.5" font-weight="normal" text-anchor="middle" fill="#2a2a2a" textLength="15.8" lengthAdjust="spacingAndGlyphs" stroke="#2a2a2a" stroke-width="0.35">0.15</text>
<line x1="466.94" y1="500.4" x2="466.94" y2="502.4" stroke="#8a8a8a" stroke-width="1"/>
<text x="466.94" y="513.5" font-family='"Liberation Sans", sans-serif' font-size="7.5" font-weight="normal" text-anchor="middle" fill="#2a2a2a" textLength="15.8" lengthAdjust="spacingAndGlyphs" stroke="#2a2a2a" stroke-width="0.35">0.20</text>
<line x1="510.5" y1="500.4" x2="510.5" y2="502.4" stroke="#8a8a8a" stroke-width="1"/>
<text x="510.5" y="513.5" font-family='"Liberation Sans", sans-serif' font-size="7.5" font-weight="normal" text-anchor="middle" fill="#2a2a2a" textLength="15.8" lengthAdjust="spacingAndGlyphs" stroke="#2a2a2a" stroke-width="0.35">0.25</text>
<text x="361.5" y="532.3" font-family='"Liberation Serif", serif' font-size="13" font-weight="bold" text-anchor="start" fill="#000" textLength="81.8" lengthAdjust="spacingAndGlyphs">MMC (μg/mL)</text>
<text x="272.3" y="460" font-family='"Liberation Serif", serif' font-size="14.5" font-weight="bold" text-anchor="start" fill="#000" textLength="64" lengthAdjust="spacingAndGlyphs" transform="rotate(-90 272.3 460)">% Colonies</text>
<polyline points="292.7,347.3 347.15,491 401.6,496 510.5,500" fill="none" stroke="#4644bc" stroke-width="1.15"/>
<polyline points="292.7,347.3 347.15,489 401.6,496 510.5,500" fill="none" stroke="#4644bc" stroke-width="1.15"/>
<polyline points="292.7,347.3 347.15,495.2 401.6,497 510.5,500.2" fill="none" stroke="#4644bc" stroke-width="1.15"/>
<circle cx="347.15" cy="491" r="3.25" fill="#fff" stroke="#4644bc" stroke-width="1.2"/>
<circle cx="401.6" cy="496" r="3.25" fill="#fff" stroke="#4644bc" stroke-width="1.2"/>
<circle cx="510.5" cy="500" r="3.25" fill="#fff" stroke="#4644bc" stroke-width="1.2"/>
<polygon points="347.15,485.44 350.54999999999995,492.06 343.75,492.06" fill="#fff" stroke="#4644bc" stroke-width="1.2"/>
<polygon points="401.6,492.44 405.0,499.06 398.20000000000005,499.06" fill="#fff" stroke="#4644bc" stroke-width="1.2"/>
<polygon points="510.5,496.44 513.9,503.06 507.1,503.06" fill="#fff" stroke="#4644bc" stroke-width="1.2"/>
<rect x="343.9" y="491.95" width="6.5" height="6.5" fill="#fff" stroke="#4644bc" stroke-width="1.2"/>
<rect x="398.35" y="493.75" width="6.5" height="6.5" fill="#fff" stroke="#4644bc" stroke-width="1.2"/>
<rect x="507.25" y="496.95" width="6.5" height="6.5" fill="#fff" stroke="#4644bc" stroke-width="1.2"/>
<line x1="347.15" y1="449.6" x2="347.15" y2="476.2" stroke="#dc6868" stroke-width="1"/>
<line x1="345.65" y1="449.6" x2="348.65" y2="449.6" stroke="#dc6868" stroke-width="1"/>
<line x1="345.65" y1="476.2" x2="348.65" y2="476.2" stroke="#dc6868" stroke-width="1"/>
<line x1="401.6" y1="470" x2="401.6" y2="489.2" stroke="#dc6868" stroke-width="1"/>
<line x1="400.1" y1="470" x2="403.1" y2="470" stroke="#dc6868" stroke-width="1"/>
<line x1="400.1" y1="489.2" x2="403.1" y2="489.2" stroke="#dc6868" stroke-width="1"/>
<line x1="510.5" y1="492" x2="510.5" y2="499" stroke="#dc6868" stroke-width="1"/>
<line x1="509.0" y1="492" x2="512.0" y2="492" stroke="#dc6868" stroke-width="1"/>
<line x1="509.0" y1="499" x2="512.0" y2="499" stroke="#dc6868" stroke-width="1"/>
<line x1="347.15" y1="348" x2="347.15" y2="407.2" stroke="#dc6868" stroke-width="1"/>
<line x1="345.65" y1="348" x2="348.65" y2="348" stroke="#dc6868" stroke-width="1"/>
<line x1="345.65" y1="407.2" x2="348.65" y2="407.2" stroke="#dc6868" stroke-width="1"/>
<line x1="401.6" y1="381.3" x2="401.6" y2="418" stroke="#dc6868" stroke-width="1"/>
<line x1="400.1" y1="381.3" x2="403.1" y2="381.3" stroke="#dc6868" stroke-width="1"/>
<line x1="400.1" y1="418" x2="403.1" y2="418" stroke="#dc6868" stroke-width="1"/>
<line x1="510.5" y1="466.8" x2="510.5" y2="491" stroke="#dc6868" stroke-width="1"/>
<line x1="509.0" y1="466.8" x2="512.0" y2="466.8" stroke="#dc6868" stroke-width="1"/>
<line x1="509.0" y1="491" x2="512.0" y2="491" stroke="#dc6868" stroke-width="1"/>
<line x1="347.15" y1="348" x2="347.15" y2="372" stroke="#dc6868" stroke-width="1"/>
<line x1="345.65" y1="348" x2="348.65" y2="348" stroke="#dc6868" stroke-width="1"/>
<line x1="345.65" y1="372" x2="348.65" y2="372" stroke="#dc6868" stroke-width="1"/>
<line x1="401.6" y1="375.3" x2="401.6" y2="426.5" stroke="#dc6868" stroke-width="1"/>
<line x1="400.1" y1="375.3" x2="403.1" y2="375.3" stroke="#dc6868" stroke-width="1"/>
<line x1="400.1" y1="426.5" x2="403.1" y2="426.5" stroke="#dc6868" stroke-width="1"/>
<line x1="510.5" y1="460.3" x2="510.5" y2="506" stroke="#dc6868" stroke-width="1"/>
<line x1="509.0" y1="460.3" x2="512.0" y2="460.3" stroke="#dc6868" stroke-width="1"/>
<line x1="509.0" y1="506" x2="512.0" y2="506" stroke="#dc6868" stroke-width="1"/>
<polyline points="292.7,347.3 347.15,462.7 401.6,479.6 510.5,495.4" fill="none" stroke="#dc6868" stroke-width="1"/>
<polyline points="292.7,347.3 347.15,376 401.6,399.1 510.5,484" fill="none" stroke="#dc6868" stroke-width="1"/>
<polyline points="292.7,347.3 347.15,360.6 401.6,399.1 510.5,483.4" fill="none" stroke="#dc6868" stroke-width="1"/>
<rect x="343.65" y="459.2" width="7" height="7" fill="#fff" stroke="#dc6868" stroke-width="1"/>
<rect x="398.1" y="476.1" width="7" height="7" fill="#fff" stroke="#dc6868" stroke-width="1"/>
<rect x="507.0" y="491.9" width="7" height="7" fill="#fff" stroke="#dc6868" stroke-width="1"/>
<polygon points="347.15,372.35 350.65,379.15 343.65,379.15" fill="#fff" stroke="#dc6868" stroke-width="1"/>
<polygon points="401.6,395.45000000000005 405.1,402.25 398.1,402.25" fill="#fff" stroke="#dc6868" stroke-width="1"/>
<polygon points="510.5,480.35 514.0,487.15 507.0,487.15" fill="#fff" stroke="#dc6868" stroke-width="1"/>
<circle cx="347.15" cy="360.6" r="3.5" fill="#fff" stroke="#dc6868" stroke-width="1"/>
<circle cx="401.6" cy="399.1" r="3.5" fill="#fff" stroke="#dc6868" stroke-width="1"/>
<circle cx="510.5" cy="483.4" r="3.5" fill="#fff" stroke="#dc6868" stroke-width="1"/>
<circle cx="292.7" cy="347.3" r="3.6" fill="#fff" stroke="#dc6868" stroke-width="1"/>
<g fill="#000"><path d="M347.20,441.90L347.20,438.90M347.20,441.90L350.05,440.97M347.20,441.90L348.96,444.33M347.20,441.90L345.44,444.33M347.20,441.90L344.35,440.97" stroke="#000" stroke-width="1.7" stroke-linecap="round" fill="none"/><circle cx="347.20" cy="438.90" r="1.2"/><circle cx="350.05" cy="440.97" r="1.2"/><circle cx="348.96" cy="444.33" r="1.2"/><circle cx="345.44" cy="444.33" r="1.2"/><circle cx="344.35" cy="440.97" r="1.2"/></g>
<g fill="#000"><path d="M401.80,462.90L401.80,459.90M401.80,462.90L404.65,461.97M401.80,462.90L403.56,465.33M401.80,462.90L400.04,465.33M401.80,462.90L398.95,461.97" stroke="#000" stroke-width="1.7" stroke-linecap="round" fill="none"/><circle cx="401.80" cy="459.90" r="1.2"/><circle cx="404.65" cy="461.97" r="1.2"/><circle cx="403.56" cy="465.33" r="1.2"/><circle cx="400.04" cy="465.33" r="1.2"/><circle cx="398.95" cy="461.97" r="1.2"/></g>
<line x1="35.5" y1="589.2" x2="35.5" y2="729.3" stroke="#8a8a8a" stroke-width="1"/>
<line x1="35.5" y1="729.3" x2="239" y2="729.3" stroke="#8a8a8a" stroke-width="1"/>
<line x1="33.5" y1="589.2" x2="35.5" y2="589.2" stroke="#8a8a8a" stroke-width="1"/>
<text x="29.2" y="592.3000000000001" font-family='"Liberation Serif", serif' font-size="8.0" font-weight="bold" text-anchor="end" fill="#111" textLength="12.149999999999999" lengthAdjust="spacingAndGlyphs">100</text>
<line x1="33.5" y1="617" x2="35.5" y2="617" stroke="#8a8a8a" stroke-width="1"/>
<text x="29.2" y="620.1" font-family='"Liberation Serif", serif' font-size="8.0" font-weight="bold" text-anchor="end" fill="#111" textLength="8.1" lengthAdjust="spacingAndGlyphs">80</text>
<line x1="33.5" y1="645.1" x2="35.5" y2="645.1" stroke="#8a8a8a" stroke-width="1"/>
<text x="29.2" y="648.2" font-family='"Liberation Serif", serif' font-size="8.0" font-weight="bold" text-anchor="end" fill="#111" textLength="8.1" lengthAdjust="spacingAndGlyphs">60</text>
<line x1="33.5" y1="673.5" x2="35.5" y2="673.5" stroke="#8a8a8a" stroke-width="1"/>
<text x="29.2" y="676.6" font-family='"Liberation Serif", serif' font-size="8.0" font-weight="bold" text-anchor="end" fill="#111" textLength="8.1" lengthAdjust="spacingAndGlyphs">40</text>
<line x1="33.5" y1="701.2" x2="35.5" y2="701.2" stroke="#8a8a8a" stroke-width="1"/>
<text x="29.2" y="704.3000000000001" font-family='"Liberation Serif", serif' font-size="8.0" font-weight="bold" text-anchor="end" fill="#111" textLength="8.1" lengthAdjust="spacingAndGlyphs">20</text>
<line x1="33.5" y1="729.3" x2="35.5" y2="729.3" stroke="#8a8a8a" stroke-width="1"/>
<text x="29.2" y="732.4" font-family='"Liberation Serif", serif' font-size="8.0" font-weight="bold" text-anchor="end" fill="#111" textLength="4.05" lengthAdjust="spacingAndGlyphs">0</text>
<line x1="35.5" y1="729.3" x2="35.5" y2="731.3" stroke="#8a8a8a" stroke-width="1"/>
<text x="33.45" y="741.0" font-family='"Liberation Serif", serif' font-size="8.0" font-weight="bold" text-anchor="middle" fill="#111" textLength="3.9" lengthAdjust="spacingAndGlyphs">0</text>
<line x1="85.67500000000001" y1="729.3" x2="85.67500000000001" y2="731.3" stroke="#8a8a8a" stroke-width="1"/>
<text x="83" y="741.0" font-family='"Liberation Serif", serif' font-size="8.0" font-weight="bold" text-anchor="middle" fill="#111" textLength="7.8" lengthAdjust="spacingAndGlyphs">50</text>
<line x1="135.85000000000002" y1="729.3" x2="135.85000000000002" y2="731.3" stroke="#8a8a8a" stroke-width="1"/>
<text x="133.3" y="741.0" font-family='"Liberation Serif", serif' font-size="8.0" font-weight="bold" text-anchor="middle" fill="#111" textLength="11.7" lengthAdjust="spacingAndGlyphs">100</text>
<line x1="186.025" y1="729.3" x2="186.025" y2="731.3" stroke="#8a8a8a" stroke-width="1"/>
<text x="182.4" y="741.0" font-family='"Liberation Serif", serif' font-size="8.0" font-weight="bold" text-anchor="middle" fill="#111" textLength="11.7" lengthAdjust="spacingAndGlyphs">150</text>
<line x1="236.20000000000002" y1="729.3" x2="236.20000000000002" y2="731.3" stroke="#8a8a8a" stroke-width="1"/>
<text x="233.1" y="741.0" font-family='"Liberation Serif", serif' font-size="8.0" font-weight="bold" text-anchor="middle" fill="#111" textLength="11.7" lengthAdjust="spacingAndGlyphs">200</text>
<text x="98.7" y="760.2" font-family='"Liberation Serif", serif' font-size="12" font-weight="bold" text-anchor="start" fill="#000" textLength="46.5" lengthAdjust="spacingAndGlyphs">HU (μM)</text>
<text x="15" y="705.5" font-family='"Liberation Serif", serif' font-size="14.5" font-weight="bold" text-anchor="start" fill="#000" textLength="72.2" lengthAdjust="spacingAndGlyphs" transform="rotate(-90 15 705.5)">% Colonies</text>
<line x1="85.67500000000001" y1="690.2" x2="85.67500000000001" y2="709.0" stroke="#dc6868" stroke-width="1"/>
<line x1="84.17500000000001" y1="690.2" x2="87.17500000000001" y2="690.2" stroke="#dc6868" stroke-width="1"/>
<line x1="84.17500000000001" y1="709.0" x2="87.17500000000001" y2="709.0" stroke="#dc6868" stroke-width="1"/>
<polyline points="35.5,589.2 60.587500000000006,674.7 85.67500000000001,699.6 135.85000000000002,722.3 236.20000000000002,728.6" fill="none" stroke="#dc6868" stroke-width="1"/>
<line x1="85.67500000000001" y1="646.5" x2="85.67500000000001" y2="685.3" stroke="#dc6868" stroke-width="1"/>
<line x1="84.17500000000001" y1="646.5" x2="87.17500000000001" y2="646.5" stroke="#dc6868" stroke-width="1"/>
<line x1="84.17500000000001" y1="685.3" x2="87.17500000000001" y2="685.3" stroke="#dc6868" stroke-width="1"/>
<line x1="135.85000000000002" y1="674.6999999999999" x2="135.85000000000002" y2="707.1" stroke="#dc6868" stroke-width="1"/>
<line x1="134.35000000000002" y1="674.6999999999999" x2="137.35000000000002" y2="674.6999999999999" stroke="#dc6868" stroke-width="1"/>
<line x1="134.35000000000002" y1="707.1" x2="137.35000000000002" y2="707.1" stroke="#dc6868" stroke-width="1"/>
<polyline points="35.5,589.2 60.587500000000006,635.9 85.67500000000001,665.9 135.85000000000002,690.9 236.20000000000002,725.8" fill="none" stroke="#dc6868" stroke-width="1"/>
<circle cx="60.587500000000006" cy="635.9" r="4.0" fill="#fff" stroke="#dc6868" stroke-width="1"/>
<circle cx="85.67500000000001" cy="665.9" r="4.0" fill="#fff" stroke="#dc6868" stroke-width="1"/>
<circle cx="135.85000000000002" cy="690.9" r="4.0" fill="#fff" stroke="#dc6868" stroke-width="1"/>
<circle cx="236.20000000000002" cy="725.8" r="4.0" fill="#fff" stroke="#dc6868" stroke-width="1"/>
<rect x="31.8" y="585.5" width="7.4" height="7.4" fill="#fff" stroke="#dc6868" stroke-width="1"/>
<rect x="56.8875" y="671.0" width="7.4" height="7.4" fill="#fff" stroke="#dc6868" stroke-width="1"/>
<rect x="81.97500000000001" y="695.9" width="7.4" height="7.4" fill="#fff" stroke="#dc6868" stroke-width="1"/>
<rect x="132.15000000000003" y="718.5999999999999" width="7.4" height="7.4" fill="#fff" stroke="#dc6868" stroke-width="1"/>
<rect x="232.50000000000003" y="724.9" width="7.4" height="7.4" fill="#fff" stroke="#dc6868" stroke-width="1"/>
<g fill="#000"><path d="M60.50,685.90L60.50,682.90M60.50,685.90L63.35,684.97M60.50,685.90L62.26,688.33M60.50,685.90L58.74,688.33M60.50,685.90L57.65,684.97" stroke="#000" stroke-width="1.7" stroke-linecap="round" fill="none"/><circle cx="60.50" cy="682.90" r="1.2"/><circle cx="63.35" cy="684.97" r="1.2"/><circle cx="62.26" cy="688.33" r="1.2"/><circle cx="58.74" cy="688.33" r="1.2"/><circle cx="57.65" cy="684.97" r="1.2"/></g>
<g fill="#000"><path d="M85.40,715.00L85.40,712.00M85.40,715.00L88.25,714.07M85.40,715.00L87.16,717.43M85.40,715.00L83.64,717.43M85.40,715.00L82.55,714.07" stroke="#000" stroke-width="1.7" stroke-linecap="round" fill="none"/><circle cx="85.40" cy="712.00" r="1.2"/><circle cx="88.25" cy="714.07" r="1.2"/><circle cx="87.16" cy="717.43" r="1.2"/><circle cx="83.64" cy="717.43" r="1.2"/><circle cx="82.55" cy="714.07" r="1.2"/></g>
<g fill="#000"><path d="M136.00,712.70L136.00,709.70M136.00,712.70L138.85,711.77M136.00,712.70L137.76,715.13M136.00,712.70L134.24,715.13M136.00,712.70L133.15,711.77" stroke="#000" stroke-width="1.7" stroke-linecap="round" fill="none"/><circle cx="136.00" cy="709.70" r="1.2"/><circle cx="138.85" cy="711.77" r="1.2"/><circle cx="137.76" cy="715.13" r="1.2"/><circle cx="134.24" cy="715.13" r="1.2"/><circle cx="133.15" cy="711.77" r="1.2"/></g>
<line x1="291.3" y1="587" x2="291.3" y2="728.8" stroke="#8a8a8a" stroke-width="1"/>
<line x1="291.3" y1="728.8" x2="496" y2="728.8" stroke="#8a8a8a" stroke-width="1"/>
<line x1="289.3" y1="587.5" x2="291.3" y2="587.5" stroke="#8a8a8a" stroke-width="1"/>
<text x="285.6" y="591.3" font-family='"Liberation Serif", serif' font-size="8.0" font-weight="bold" text-anchor="end" fill="#222" textLength="12.0" lengthAdjust="spacingAndGlyphs">100</text>
<line x1="289.3" y1="615.5" x2="291.3" y2="615.5" stroke="#8a8a8a" stroke-width="1"/>
<text x="285.6" y="619.3" font-family='"Liberation Serif", serif' font-size="8.0" font-weight="bold" text-anchor="end" fill="#222" textLength="8.0" lengthAdjust="spacingAndGlyphs">80</text>
<line x1="289.3" y1="643.2" x2="291.3" y2="643.2" stroke="#8a8a8a" stroke-width="1"/>
<text x="285.6" y="647.0" font-family='"Liberation Serif", serif' font-size="8.0" font-weight="bold" text-anchor="end" fill="#222" textLength="8.0" lengthAdjust="spacingAndGlyphs">60</text>
<line x1="289.3" y1="671.8" x2="291.3" y2="671.8" stroke="#8a8a8a" stroke-width="1"/>
<text x="285.6" y="675.5999999999999" font-family='"Liberation Serif", serif' font-size="8.0" font-weight="bold" text-anchor="end" fill="#222" textLength="8.0" lengthAdjust="spacingAndGlyphs">40</text>
<line x1="289.3" y1="700.3" x2="291.3" y2="700.3" stroke="#8a8a8a" stroke-width="1"/>
<text x="285.6" y="704.0999999999999" font-family='"Liberation Serif", serif' font-size="8.0" font-weight="bold" text-anchor="end" fill="#222" textLength="8.0" lengthAdjust="spacingAndGlyphs">20</text>
<line x1="289.3" y1="728.8" x2="291.3" y2="728.8" stroke="#8a8a8a" stroke-width="1"/>
<text x="285.6" y="732.5999999999999" font-family='"Liberation Serif", serif' font-size="8.0" font-weight="bold" text-anchor="end" fill="#222" textLength="4.0" lengthAdjust="spacingAndGlyphs">0</text>
<line x1="291.3" y1="728.8" x2="291.3" y2="730.8" stroke="#8a8a8a" stroke-width="1"/>
<text x="292" y="741.8" font-family='"Liberation Serif", serif' font-size="8.0" font-weight="bold" text-anchor="middle" fill="#111" textLength="3.9" lengthAdjust="spacingAndGlyphs">0</text>
<line x1="318.6" y1="728.8" x2="318.6" y2="730.8" stroke="#8a8a8a" stroke-width="1"/>
<text x="318.5" y="741.8" font-family='"Liberation Serif", serif' font-size="8.0" font-weight="bold" text-anchor="middle" fill="#111" textLength="9.8" lengthAdjust="spacingAndGlyphs">0.2</text>
<line x1="345.90000000000003" y1="728.8" x2="345.90000000000003" y2="730.8" stroke="#8a8a8a" stroke-width="1"/>
<text x="346" y="741.8" font-family='"Liberation Serif", serif' font-size="8.0" font-weight="bold" text-anchor="middle" fill="#111" textLength="9.8" lengthAdjust="spacingAndGlyphs">0.4</text>
<line x1="373.2" y1="728.8" x2="373.2" y2="730.8" stroke="#8a8a8a" stroke-width="1"/>
<text x="373" y="741.8" font-family='"Liberation Serif", serif' font-size="8.0" font-weight="bold" text-anchor="middle" fill="#111" textLength="9.8" lengthAdjust="spacingAndGlyphs">0.6</text>
<line x1="400.5" y1="728.8" x2="400.5" y2="730.8" stroke="#8a8a8a" stroke-width="1"/>
<text x="400.2" y="741.8" font-family='"Liberation Serif", serif' font-size="8.0" font-weight="bold" text-anchor="middle" fill="#111" textLength="9.8" lengthAdjust="spacingAndGlyphs">0.8</text>
<line x1="427.8" y1="728.8" x2="427.8" y2="730.8" stroke="#8a8a8a" stroke-width="1"/>
<text x="428.4" y="741.8" font-family='"Liberation Serif", serif' font-size="8.0" font-weight="bold" text-anchor="middle" fill="#111" textLength="9.8" lengthAdjust="spacingAndGlyphs">1.0</text>
<line x1="455.1" y1="728.8" x2="455.1" y2="730.8" stroke="#8a8a8a" stroke-width="1"/>
<text x="455" y="741.8" font-family='"Liberation Serif", serif' font-size="8.0" font-weight="bold" text-anchor="middle" fill="#111" textLength="9.8" lengthAdjust="spacingAndGlyphs">1.2</text>
<line x1="482.4" y1="728.8" x2="482.4" y2="730.8" stroke="#8a8a8a" stroke-width="1"/>
<text x="481.4" y="741.8" font-family='"Liberation Serif", serif' font-size="8.0" font-weight="bold" text-anchor="middle" fill="#111" textLength="9.8" lengthAdjust="spacingAndGlyphs">1.4</text>
<text x="360.5" y="760" font-family='"Liberation Serif", serif' font-size="12.3" font-weight="bold" text-anchor="start" fill="#000" textLength="61.8" lengthAdjust="spacingAndGlyphs">Cis (μg/mL)</text>
<text x="273.3" y="692.3" font-family='"Liberation Serif", serif' font-size="14.5" font-weight="bold" text-anchor="start" fill="#000" textLength="65.8" lengthAdjust="spacingAndGlyphs" transform="rotate(-90 273.3 692.3)">% Colonies</text>
<line x1="331.5675" y1="661.5" x2="331.5675" y2="679.5" stroke="#dc6868" stroke-width="1"/>
<line x1="330.0675" y1="661.5" x2="333.0675" y2="661.5" stroke="#dc6868" stroke-width="1"/>
<line x1="330.0675" y1="679.5" x2="333.0675" y2="679.5" stroke="#dc6868" stroke-width="1"/>
<polyline points="291.3,587 331.5675,670.5 412.785,715.5 493.32000000000005,725" fill="none" stroke="#dc6868" stroke-width="1"/>
<line x1="331.5675" y1="621.25" x2="331.5675" y2="641.25" stroke="#dc6868" stroke-width="1"/>
<line x1="330.0675" y1="621.25" x2="333.0675" y2="621.25" stroke="#dc6868" stroke-width="1"/>
<line x1="330.0675" y1="641.25" x2="333.0675" y2="641.25" stroke="#dc6868" stroke-width="1"/>
<polyline points="291.3,587 331.5675,631.25 412.785,671.25 493.32000000000005,721.25" fill="none" stroke="#dc6868" stroke-width="1"/>
<circle cx="331.5675" cy="631.25" r="3.8" fill="#fff" stroke="#dc6868" stroke-width="1"/>
<circle cx="412.785" cy="671.25" r="3.8" fill="#fff" stroke="#dc6868" stroke-width="1"/>
<circle cx="493.32000000000005" cy="721.25" r="3.8" fill="#fff" stroke="#dc6868" stroke-width="1"/>
<rect x="287.6" y="583.3" width="7.4" height="7.4" fill="#fff" stroke="#dc6868" stroke-width="1"/>
<rect x="327.8675" y="666.8" width="7.4" height="7.4" fill="#fff" stroke="#dc6868" stroke-width="1"/>
<rect x="409.08500000000004" y="711.8" width="7.4" height="7.4" fill="#fff" stroke="#dc6868" stroke-width="1"/>
<rect x="489.62000000000006" y="721.3" width="7.4" height="7.4" fill="#fff" stroke="#dc6868" stroke-width="1"/>
<g fill="#000"><path d="M332.00,655.45L332.00,652.45M332.00,655.45L334.85,654.52M332.00,655.45L333.76,657.88M332.00,655.45L330.24,657.88M332.00,655.45L329.15,654.52" stroke="#000" stroke-width="1.7" stroke-linecap="round" fill="none"/><circle cx="332.00" cy="652.45" r="1.2"/><circle cx="334.85" cy="654.52" r="1.2"/><circle cx="333.76" cy="657.88" r="1.2"/><circle cx="330.24" cy="657.88" r="1.2"/><circle cx="329.15" cy="654.52" r="1.2"/></g>
<g fill="#000"><path d="M412.50,705.45L412.50,702.45M412.50,705.45L415.35,704.52M412.50,705.45L414.26,707.88M412.50,705.45L410.74,707.88M412.50,705.45L409.65,704.52" stroke="#000" stroke-width="1.7" stroke-linecap="round" fill="none"/><circle cx="412.50" cy="702.45" r="1.2"/><circle cx="415.35" cy="704.52" r="1.2"/><circle cx="414.26" cy="707.88" r="1.2"/><circle cx="410.74" cy="707.88" r="1.2"/><circle cx="409.65" cy="704.52" r="1.2"/></g>
</svg></body></html>
